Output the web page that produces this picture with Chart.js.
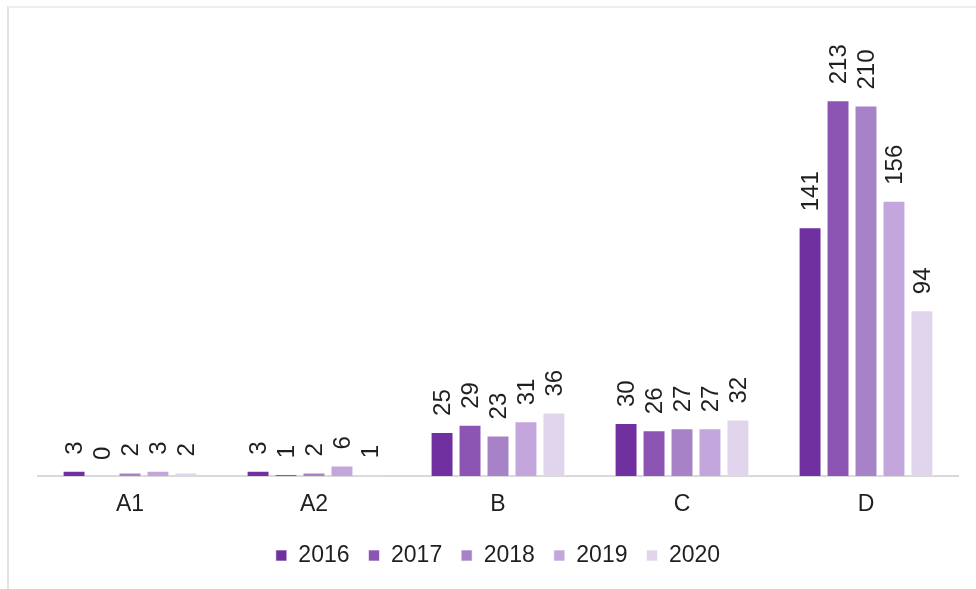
<!DOCTYPE html>
<html>
<head>
<meta charset="utf-8">
<script src="https://cdn.jsdelivr.net/npm/chart.js@4/dist/chart.umd.min.js"></script>
<style>
  html, body { margin: 0; padding: 0; background: #fff; }
  body { width: 976px; height: 589px; position: relative; overflow: hidden; }
  .frame { position: absolute; left: 7px; top: 6px; width: 1000px; height: 620px;
           border-left: 2px solid #e2e2e2; border-top: 2px solid #eeeeee; }
  .wrap { position: absolute; left: 0; top: 0; width: 976px; height: 589px; }
</style>
</head>
<body>
<div class="frame"></div>
<div class="wrap"><canvas id="chart"></canvas></div>
<script>
// ============= Dados =============
const categories = ["A1", "A2", "B", "C", "D"];
const years = ["2016", "2017", "2018", "2019", "2020"];
const values2016 = [3, 3, 25, 30, 141];
const values2017 = [0, 1, 29, 26, 213];
const values2018 = [2, 2, 23, 27, 210];
const values2019 = [3, 6, 31, 27, 156];
const values2020 = [2, 1, 36, 32, 94];
const colors = ["#7030a0", "#8d55b3", "#a782c6", "#c3a6dc", "#e1d4ed"];

const seriesValues = [values2016, values2017, values2018, values2019, values2020];
const FONT = "'Liberation Sans', Arial, sans-serif";

// rótulos verticais acima das barras
const barLabels = {
  id: "barLabels",
  afterDatasetsDraw(chart) {
    const ctx = chart.ctx;
    ctx.save();
    ctx.fillStyle = "#1f1f1f";
    ctx.font = "24px " + FONT;
    ctx.textAlign = "left";
    ctx.textBaseline = "middle";
    chart.data.datasets.forEach((ds, i) => {
      chart.getDatasetMeta(i).data.forEach((bar, j) => {
        ctx.save();
        ctx.translate(bar.x + 1, bar.y - 16);
        ctx.rotate(-Math.PI / 2);
        ctx.fillText(String(ds.data[j]), 0, 0);
        ctx.restore();
      });
    });
    ctx.restore();
  }
};

new Chart(document.getElementById("chart"), {
  type: "bar",
  data: {
    labels: categories,
    datasets: years.map((y, i) => ({
      label: y,
      data: seriesValues[i],
      backgroundColor: colors[i],
      borderColor: "rgba(255,255,255,0.6)",
      borderWidth: 1,
      categoryPercentage: 0.76,
      barPercentage: 0.82
    }))
  },
  options: {
    responsive: true,
    maintainAspectRatio: false,
    animation: false,
    layout: { padding: { left: 38, right: 18, top: 35, bottom: 12 } },
    plugins: {
      tooltip: { enabled: false },
      legend: {
        position: "bottom",
        labels: {
          boxWidth: 11,
          boxHeight: 11,
          padding: 19,
          color: "#1f1f1f",
          font: { family: FONT, size: 23 }
        }
      }
    },
    scales: {
      y: { display: false, min: 0, max: 250 },
      x: {
        grid: { display: false },
        border: { color: "#d9d9d9", width: 2 },
        ticks: { color: "#1f1f1f", padding: 7, font: { family: FONT, size: 23 } },
        afterFit(s) { s.height = 49; }
      }
    }
  },
  plugins: [barLabels]
});
</script>
</body>
</html>
